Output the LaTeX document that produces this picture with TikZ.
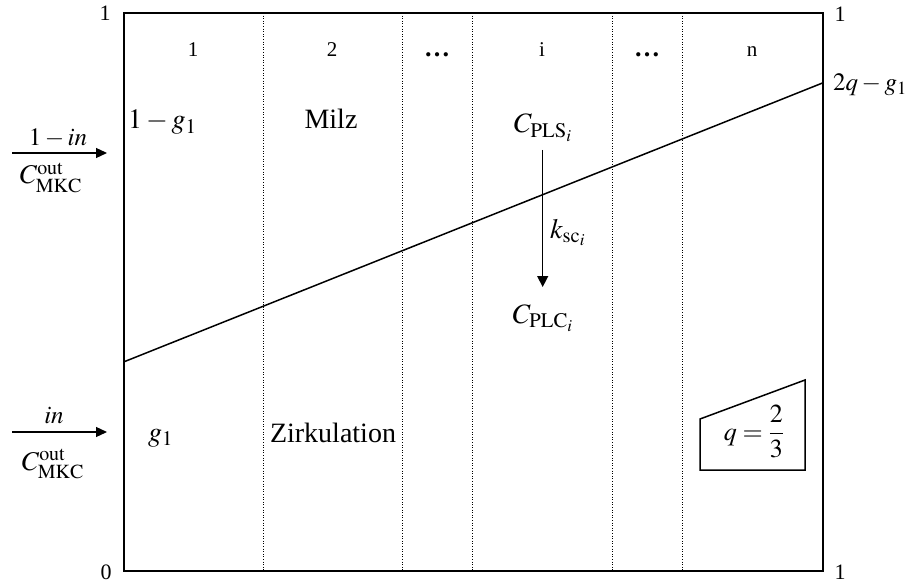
\documentclass[tikz,border=0pt]{standalone}
\usepackage{mathptmx}
\usepackage{fontspec}
\setmainfont{Liberation Serif}
\usetikzlibrary{arrows.meta}
\newcommand\szbig{\fontsize{28}{30}\selectfont}
\newcommand\szmid{\fontsize{25}{27}\selectfont}
\newcommand\szcol{\fontsize{21}{23}\selectfont}
\newcommand\szax{\fontsize{22}{24}\selectfont}
\begin{document}
\begin{tikzpicture}[x=1pt,y=-1pt,
  frame/.style={line width=2pt},
  sep/.style={line width=0.9pt, dash pattern=on 1pt off 1.6pt},
  diag/.style={line width=1.5pt},
  flow/.style={line width=1.3pt,-{Triangle[length=11pt,width=10pt]}},
  lbl/.style={inner sep=0pt, font=\szbig},
  col/.style={inner sep=0pt, font=\szcol, anchor=base},
  dots/.style={inner sep=0pt, font=\fontsize{26}{28}\selectfont\bfseries, anchor=base},
  ax/.style={inner sep=0pt, font=\szax, anchor=base},
  side/.style={inner sep=0pt, anchor=base}]
\useasboundingbox (0,0) rectangle (908,583);
% frame
\draw[frame] (123.5,13) rectangle (822.5,571);
% column separators
\foreach \x in {263,402,472,612,682}
  \draw[sep] (\x,13) -- (\x,571);
% diagonal
\coordinate (dl) at (123.5,362);
\coordinate (dr) at (822.5,83);
\draw[diag] (dl) -- (dr);
% column labels
\node[col] (c1) at (193,57) {1};
\node[col] (c2) at (332,57) {2};
\node[dots] (c3) at (437,57) {…};
\node[col] (c4) at (542,57) {i};
\node[dots] (c5) at (647,57) {…};
\node[col] (c6) at (752,57) {n};
% axis labels
\node[ax] (tl) at (105,21) {1};
\node[ax] (tr) at (840,22) {1};
\node[ax] (bl) at (106,579) {0};
\node[ax] (br) at (840,579) {1};
\node[lbl, anchor=base west, font=\fontsize{25}{27}\selectfont] (gq) at (833,91) {$2q-g_1$};
% region labels
\node[lbl, anchor=base west] (omg) at (128,129) {$1-g_1$};
\node[lbl, anchor=base] (milz) at (331,129) {Milz};
\node[lbl, anchor=base west] (g1) at (148,441) {$g_1$};
\node[lbl, anchor=base] (zirk) at (333,442) {Zirkulation};
% exchange arrow
\node[lbl, anchor=base] (cpls) at (543,133) {$C_{\mathrm{PLS}_i}$};
\node[lbl, anchor=base] (cplc) at (543,323) {$C_{\mathrm{PLC}_i}$};
\node[lbl, anchor=base west] (ksc) at (550,238) {$k_{\mathrm{sc}_i}$};
\coordinate (as) at (542.7,150);
\coordinate (ae) at (542.7,287);
\draw[flow,-{Triangle[length=11pt,width=11pt]}] (as) -- (ae);
% inflow arrows
\coordinate (u0) at (12,153);
\coordinate (u1) at (107,153);
\draw[flow] (u0) -- (u1);
\node[side, font=\szmid] (uin) at (58,146) {$1-in$};
\node[side, font=\fontsize{27}{29}\selectfont] (uc) at (51,184) {$C^{\mathrm{out}}_{\mathrm{MKC}}$};
\coordinate (l0) at (12,432);
\coordinate (l1) at (107,432);
\draw[flow] (l0) -- (l1);
\node[side, font=\szmid] (lin) at (54,423) {$in$};
\node[side, font=\fontsize{27}{29}\selectfont] (lc) at (53,470) {$C^{\mathrm{out}}_{\mathrm{MKC}}$};
% q box
\draw[line width=1.5pt] (700,419) -- (805,380) -- (805,470) -- (700,470) -- cycle;
\node[side, font=\fontsize{26}{28}\selectfont] (q) at (754,440) {$q=\displaystyle\frac{2}{3}$};
\end{tikzpicture}
\end{document}
